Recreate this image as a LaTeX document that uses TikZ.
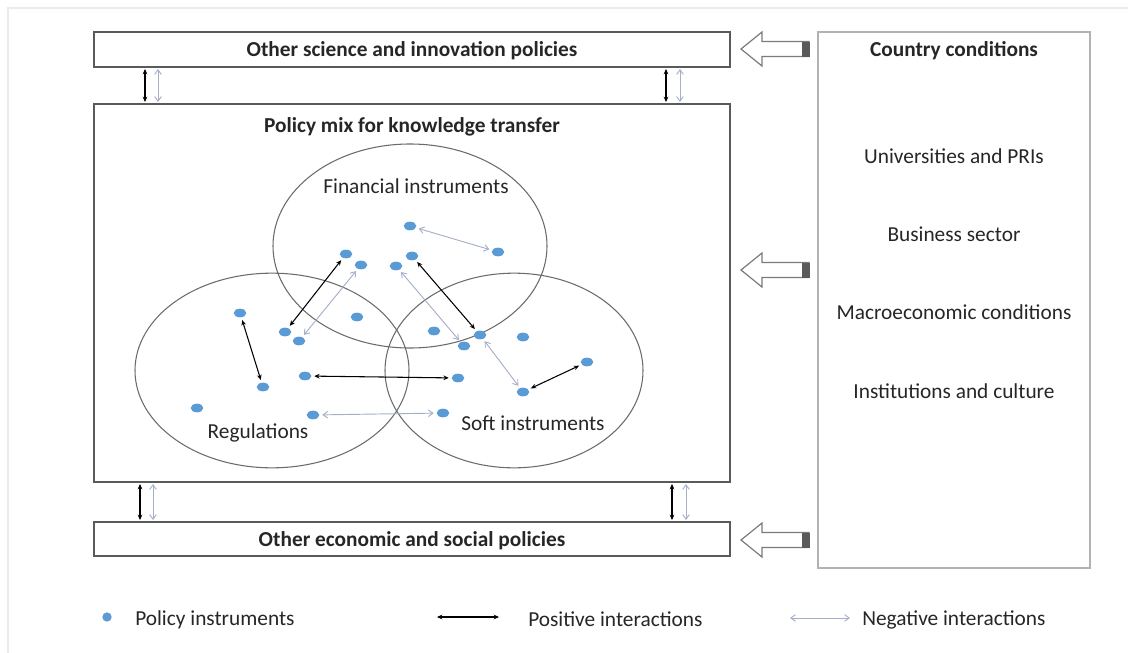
\documentclass[tikz,border=0pt]{standalone}
\usepackage{fontspec}
\setmainfont{Carlito}
\usetikzlibrary{arrows.meta,shapes.geometric}
\definecolor{dotblue}{RGB}{91,155,213}
\definecolor{negc}{RGB}{165,175,200}
\definecolor{boxc}{RGB}{90,90,90}
\definecolor{txt}{RGB}{38,38,38}
\tikzset{
  pbox/.style={draw=boxc, line width=1pt, minimum height=0pt, inner sep=0pt},
  dot/.style={ellipse, fill=dotblue, minimum width=9.5pt, minimum height=6.5pt, inner sep=0pt},
  venn/.style={ellipse, draw=boxc!90, line width=0.8pt, inner sep=0pt},
  posarr/.style={{Stealth[length=4pt,width=3.5pt]}-{Stealth[length=4pt,width=3.5pt]}, black, line width=0.8pt, shorten <=2pt, shorten >=2pt},
  negarr/.style={{Straight Barb[length=3.5pt,width=5pt]}-{Straight Barb[length=3.5pt,width=5pt]}, negc, line width=0.7pt, shorten <=2pt, shorten >=2pt},
  blockarr/.style={draw=boxc!80, fill=white, line width=0.9pt},
  lbl/.style={text=txt, font=\fontsize{16}{18}\selectfont, inner sep=0pt, yshift=-1.2pt},
  blbl/.style={text=txt, font=\fontsize{16}{18}\selectfont\bfseries, inner sep=0pt, yshift=-1.2pt},
}
\begin{document}
\begin{tikzpicture}[x=0.75pt,y=-0.75pt]
\path[use as bounding box] (0,0) rectangle (1128,653);
\draw[black!8, line width=0.8pt] (8,653) -- (8,8) -- (1128,8);
% boxes
\node[pbox, minimum width=477pt, minimum height=26.25pt] (topbox) at (412,49.5) {};
\node[blbl] at (topbox.center) {Other science and innovation policies};
\node[pbox, minimum width=477pt, minimum height=283.5pt] (mainbox) at (412,293) {};
\node[blbl] (maintitle) at (412,125) {Policy mix for knowledge transfer};
\node[pbox, minimum width=477pt, minimum height=25.5pt] (botbox) at (412,539) {};
\node[blbl] at (botbox.center) {Other economic and social policies};
\node[draw=black!30, line width=1pt, minimum width=204pt, minimum height=402pt, inner sep=0pt] (country) at (954,300) {};
\node[blbl] at (954,49) {Country conditions};
\node[lbl] at (954,155) {Universities and PRIs};
\node[lbl] at (954,233) {Business sector};
\node[lbl] at (954,311) {Macroeconomic conditions};
\node[lbl] at (954,390) {Institutions and culture};
% block arrows
\foreach \yy in {49,270,540}{
  \draw[blockarr] (741,\yy) -- (762,\yy-17) -- (762,\yy-7.5) -- (809,\yy-7.5) -- (809,\yy+7.5) -- (762,\yy+7.5) -- (762,\yy+17) -- cycle;
  \fill[boxc] (802,\yy-7.5) rectangle (810,\yy+7.5);
}
% small vertical arrows between boxes
\draw[posarr, shorten <=1pt, shorten >=1pt] (topbox.south -| 145,0) -- (mainbox.north -| 145,0);
\draw[negarr, shorten <=1pt, shorten >=1pt] (topbox.south -| 158,0) -- (mainbox.north -| 158,0);
\draw[posarr, shorten <=1pt, shorten >=1pt] (topbox.south -| 666,0) -- (mainbox.north -| 666,0);
\draw[negarr, shorten <=1pt, shorten >=1pt] (topbox.south -| 680,0) -- (mainbox.north -| 680,0);
\draw[posarr, shorten <=1pt, shorten >=1pt] (mainbox.south -| 140,0) -- (botbox.north -| 140,0);
\draw[negarr, shorten <=1pt, shorten >=1pt] (mainbox.south -| 153,0) -- (botbox.north -| 153,0);
\draw[posarr, shorten <=1pt, shorten >=1pt] (mainbox.south -| 672,0) -- (botbox.north -| 672,0);
\draw[negarr, shorten <=1pt, shorten >=1pt] (mainbox.south -| 686,0) -- (botbox.north -| 686,0);
% venn ellipses
\node[venn, minimum width=205.5pt, minimum height=153pt] (fin) at (410,246) {};
\node[venn, minimum width=205.5pt, minimum height=146pt] (reg) at (272,370.5) {};
\node[venn, minimum width=193.5pt, minimum height=146pt] (soft) at (514,370.5) {};
\node[lbl] at (416,185) {Financial instruments};
\node[lbl] at (258,431) {Regulations};
\node[lbl] at (533,422) {Soft instruments};
% dots
\node[dot] (d1) at (410,226) {};
\node[dot] (d2) at (498,252) {};
\node[dot] (d3) at (346,254) {};
\node[dot] (d4) at (361,265) {};
\node[dot] (d5) at (396,266) {};
\node[dot] (d6) at (412,256) {};
\node[dot] (d7) at (240,313) {};
\node[dot] (d8) at (357,317) {};
\node[dot] (d9) at (285,332) {};
\node[dot] (d10) at (299,341) {};
\node[dot] (d11) at (434,331) {};
\node[dot] (d12) at (480,335) {};
\node[dot] (d13) at (464,346) {};
\node[dot] (d14) at (523,337) {};
\node[dot] (d15) at (587,362) {};
\node[dot] (d16) at (523,392) {};
\node[dot] (d17) at (263,387) {};
\node[dot] (d18) at (305,376) {};
\node[dot] (d19) at (458,378) {};
\node[dot] (d20) at (197,408) {};
\node[dot] (d21) at (313,415) {};
\node[dot] (d22) at (443,413) {};
% positive interactions
\draw[posarr] (d3) -- (d9);
\draw[posarr] (d6) -- (d12);
\draw[posarr] (d7) -- (d17);
\draw[posarr] (d18) -- (d19);
\draw[posarr] (d16) -- (d15);
% negative interactions
\draw[negarr] (d1) -- (d2);
\draw[negarr] (d4) -- (d10);
\draw[negarr] (d5) -- (d13);
\draw[negarr] (d12) -- (d16);
\draw[negarr] (d21) -- (d22);
% legend
\node[dot, minimum width=7pt, minimum height=7pt] (ldot) at (107,617) {};
\node[lbl, anchor=west] at (135,618) {Policy instruments};
\coordinate (lp1) at (437,617);
\coordinate (lp2) at (499,617);
\draw[posarr, shorten <=0pt, shorten >=0pt] (lp1) -- (lp2);
\node[lbl, anchor=west] at (528,618) {Positive interactions};
\coordinate (ln1) at (790,618);
\coordinate (ln2) at (850,618);
\draw[negarr, shorten <=0pt, shorten >=0pt] (ln1) -- (ln2);
\node[lbl, anchor=west] at (862,618) {Negative interactions};
\end{tikzpicture}
\end{document}
